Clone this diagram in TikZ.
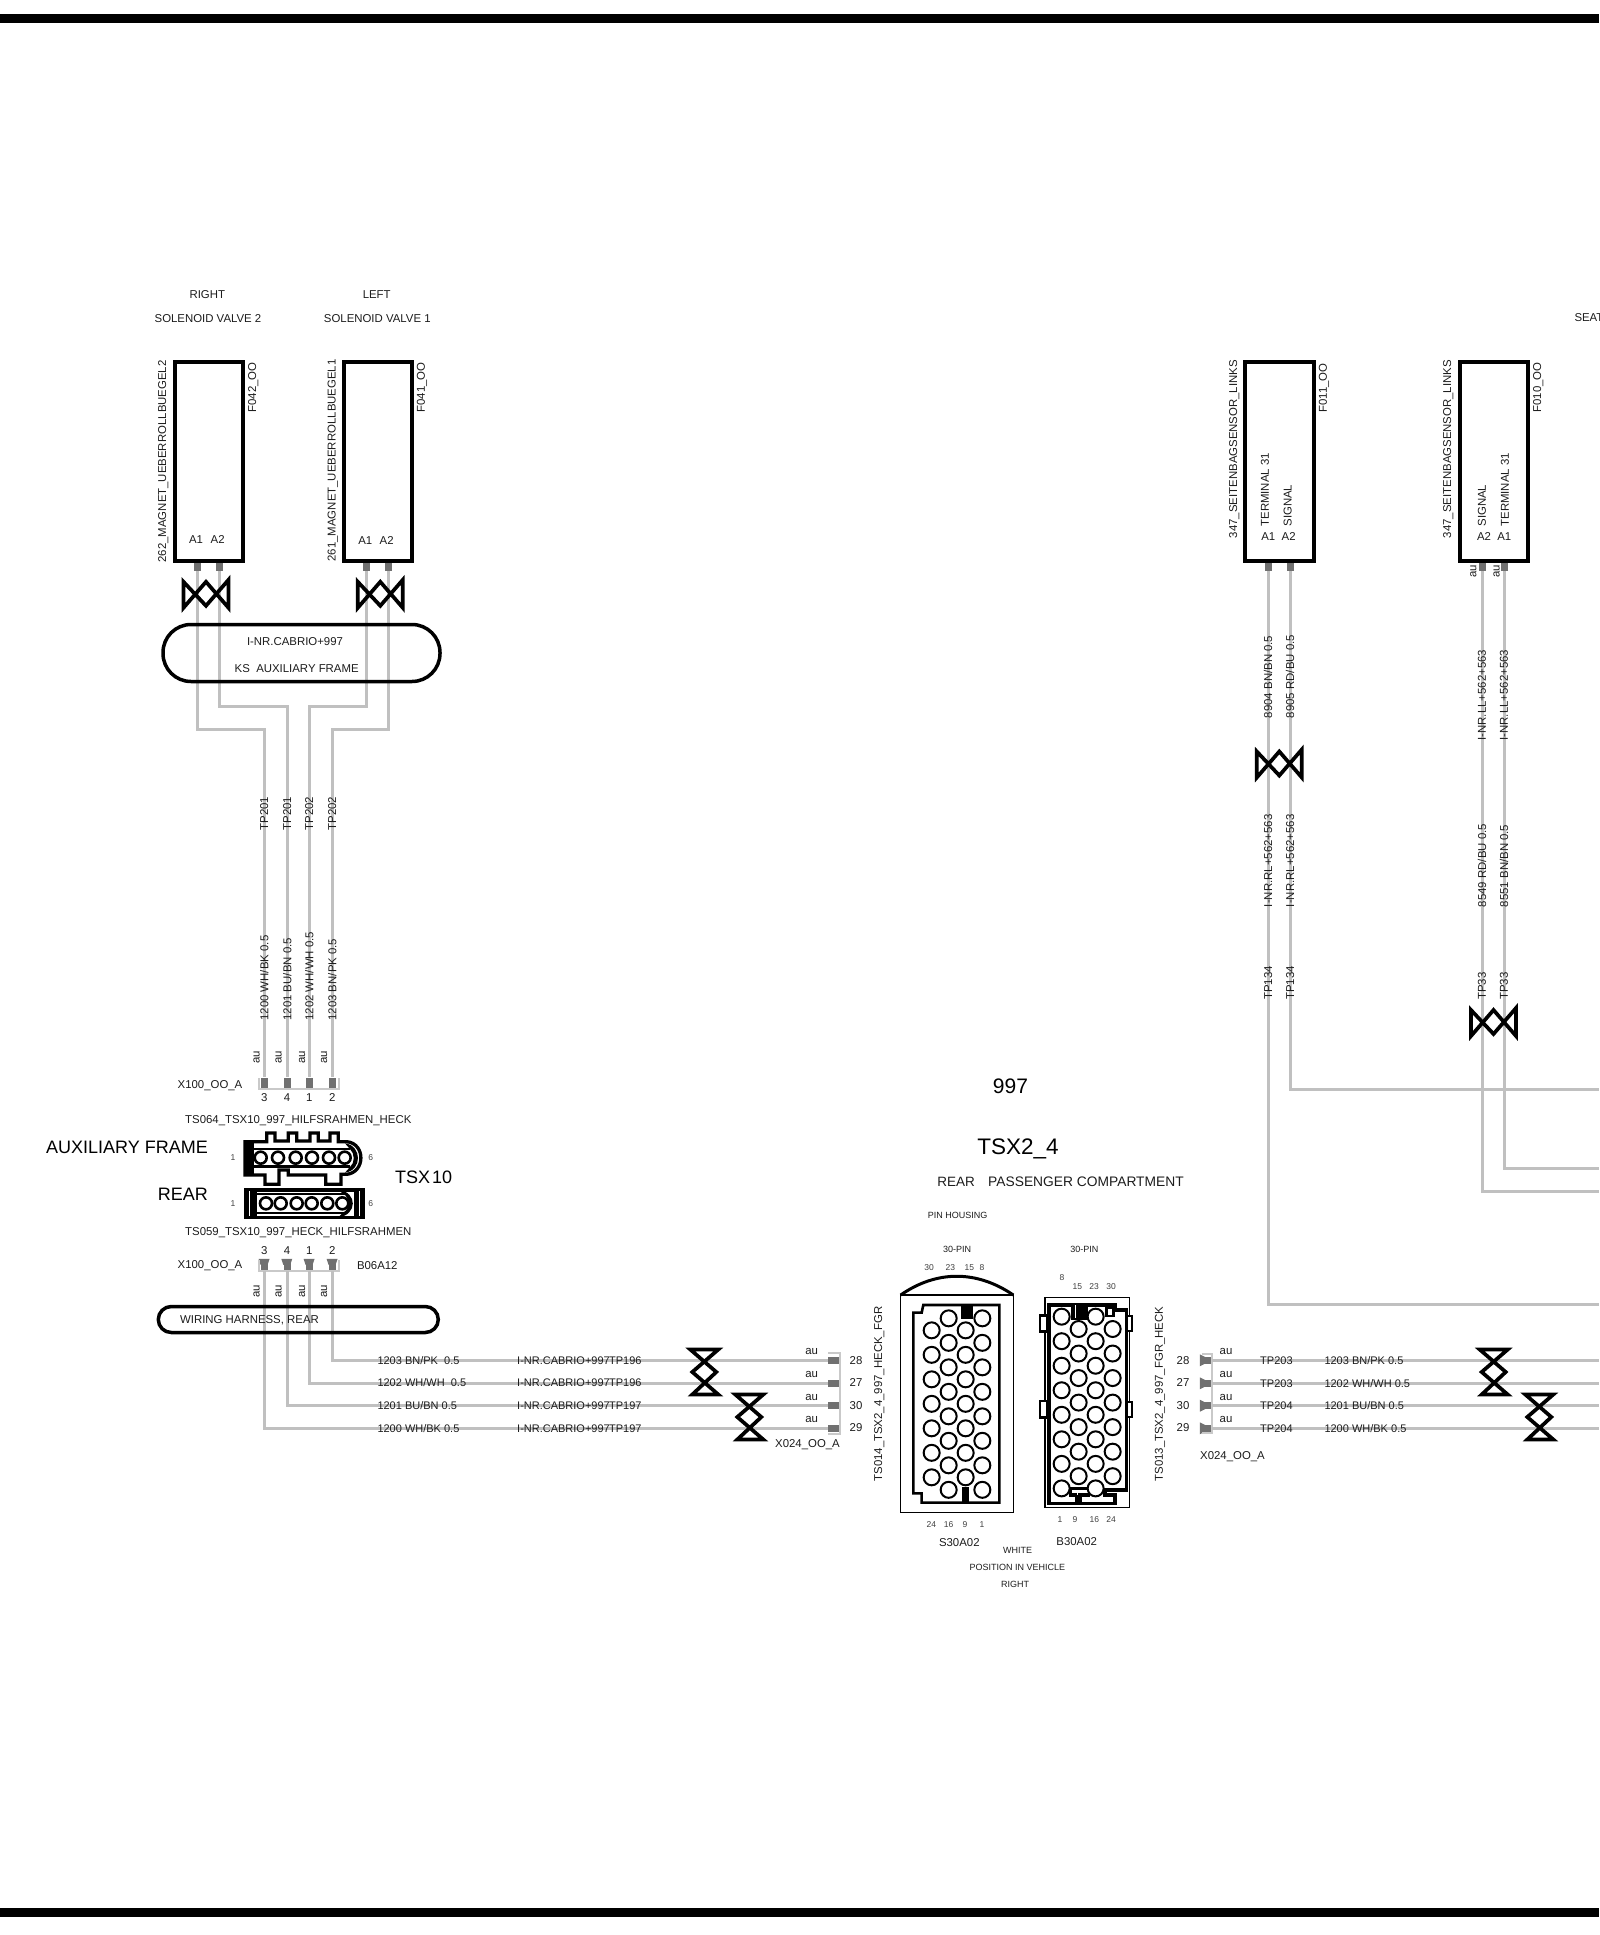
\documentclass[tikz,border=0pt]{standalone}
\usepackage{fontspec}
\setmainfont{Liberation Sans}
\usetikzlibrary{positioning}

\definecolor{wiregray}{HTML}{C0C0C0}
\definecolor{pingray}{HTML}{707070}
\definecolor{inkgray}{HTML}{1C1C1C}

\begin{document}
\begin{tikzpicture}[x=1pt, y=-1pt]
		\tikzstyle{lab} = [inner sep=0pt, text=inkgray, font=\fontsize{11.4}{13}\selectfont]
		\tikzstyle{wlab} = [lab, anchor=west, font=\fontsize{11}{13}\selectfont]
		\tikzstyle{vlab} = [lab, rotate=90, anchor=west]
		\tikzstyle{tiny} = [inner sep=0pt, text=inkgray!85, font=\fontsize{8.5}{10}\selectfont]
		\tikzstyle{head} = [inner sep=0pt, text=black, font=\fontsize{18}{20}\selectfont]
		\tikzstyle{wire} = [draw=wiregray, line width=3pt]
		\tikzstyle{bracket} = [draw=wiregray!85, line width=2pt]
		\tikzstyle{pinstub} = [fill=pingray, inner sep=0pt, minimum width=7pt, minimum height=11pt]
		\tikzstyle{pinside} = [fill=pingray, inner sep=0pt, minimum width=11pt, minimum height=7pt]
		\tikzstyle{devbox} = [draw, line width=4pt, inner sep=0pt, minimum width=68.5pt, minimum height=198.5pt]
		\tikzstyle{harness} = [draw, line width=3.5pt, inner sep=0pt]
		\tikzstyle{housing} = [draw, line width=2.6pt, miter limit=4]
		\tikzstyle{shell} = [draw, line width=1.6pt]
		\tikzstyle{contact} = [draw, fill=white, line width=2pt]
		\tikzset{twist/.pic={
			\draw[line width=3.7pt, miter limit=3] (-22.5,-12) -- (0,12) -- (22.5,-14) -- (22.5,14) -- (0,-12) -- (-22.5,14) -- cycle;
		}}

		\useasboundingbox (0,0) rectangle (1599,1935);

		% frame bars
		\fill (0,14) rectangle (1599,23);
		\fill (0,1908) rectangle (1599,1917);

		% device pins
		\foreach \name / \x in {r1/197.3, r2/219.3, l1/366.3, l2/388.3, s1/1268.3, s2/1290.3, t2/1482.3, t1/1504.3}
			\node[pinstub] (pin-\name) at (\x, 565.5) {};

		% connector X100 pins
		\foreach \name / \x in {3/264.3, 4/287, 1/309.3, 2/332.3}
			\node[pinstub] (up-\name) at (\x, 1083) {};
		\foreach \name / \x in {3/264.3, 4/287, 1/309.3, 2/332.3}{
			\node[pinstub] (low-\name) at (\x, 1265.5) {};
			\fill[pingray] (low-\name.north west) ++(-2,-1) -- ++(11,0) -- ++(-2,6) -- ++(-7,0) -- cycle;
		}

		% connector X024 pins
		\foreach \name / \y in {28/1360.7, 27/1383, 30/1405.3, 29/1428.3}
			\node[pinside] (left-\name) at (833.5, \y) {};
		\foreach \name / \y in {28/1360.3, 27/1383.3, 30/1405.7, 29/1428.3}{
			\node[pinside] (right-\name) at (1206.5, \y) {};
			\fill[pingray] (right-\name.west) ++(-1,-6) -- ++(6,3) -- ++(0,6) -- ++(-6,3) -- cycle;
			\coordinate (end-\name) at (1599, \y);
		}
		\coordinate (end-a) at (1599, 1089.3);
		\coordinate (end-b) at (1599, 1168.3);
		\coordinate (end-c) at (1599, 1191.7);
		\coordinate (end-d) at (1599, 1304);

		% brackets
		\draw[bracket] (259,1078) -- (259,1089) -- (339,1089) -- (339,1078);
		\draw[bracket] (259,1260) -- (259,1271) -- (339,1271) -- (339,1260);
		\draw[bracket] (828,1353) -- (840,1353) -- (840,1434) -- (828,1434);
		\draw[bracket] (1202,1354) -- (1212,1354) -- (1212,1433) -- (1202,1433);

		% solenoid wires
		\draw[wire] (pin-r1.south) -- (pin-r1 |- 0,729.3) -| (up-3.north);
		\draw[wire] (pin-r2.south) -- (pin-r2 |- 0,706) -| (up-4.north);
		\draw[wire] (pin-l1.south) -- (pin-l1 |- 0,706) -| (up-1.north);
		\draw[wire] (pin-l2.south) -- (pin-l2 |- 0,729.3) -| (up-2.north);

		% harness wires
		\draw[wire] (low-3.south) |- (left-29.west);
		\draw[wire] (low-4.south) |- (left-30.west);
		\draw[wire] (low-1.south) |- (left-27.west);
		\draw[wire] (low-2.south) |- (left-28.west);

		% wires to the right edge
		\foreach \name in {28, 27, 30, 29}
			\path[wire] (right-\name.east) edge (end-\name);
		\draw[wire] (pin-s2.south) |- (end-a);
		\draw[wire] (pin-t1.south) |- (end-b);
		\draw[wire] (pin-t2.south) |- (end-c);
		\draw[wire] (pin-s1.south) |- (end-d);

		% twists
		\pic at (206,593.8) {twist};
		\pic at (380.3,593.8) {twist};
		\pic at (1279.3,763.5) {twist};
		\pic at (1493.5,1022) {twist};
		\pic[rotate=90] at (704.3,1372) {twist};
		\pic[rotate=90] at (749.3,1417) {twist};
		\pic[rotate=90] at (1493.7,1372) {twist};
		\pic[rotate=90] at (1539.3,1417) {twist};

		% devices
		\node[devbox] (f042) at (208.75,461.25) {};
		\node[devbox] (f041) at (377.75,461.25) {};
		\node[devbox] (f011) at (1279.5,461.25) {};
		\node[devbox] (f010) at (1493.75,461.25) {};

		% harness frames
		\node[harness, minimum width=277pt, minimum height=57pt, rounded corners=28pt] (ks-frame) at (301.5,653) {};
		\node[harness, minimum width=280pt, minimum height=26pt, rounded corners=13pt] (rear-frame) at (298.3,1319.5) {};

		% connector TS064
		\begin{scope}[shift={(235,1125)}, scale=.3333]
			\draw[housing, line width=3.3pt] (30,50) -- (95,50) -- (95,24) -- (120,24) -- (120,48) -- (160,48) -- (160,24) -- (185,24) -- (185,48) -- (225,48) -- (225,24) -- (250,24) -- (250,48) -- (285,48) -- (285,24) -- (310,24) -- (310,50) -- (335,50) .. controls (392,55) and (392,142) .. (335,148) -- (318,148) -- (318,178) -- (272,178) -- (272,150) -- (160,150) -- (160,135) -- (132,135) -- (132,178) -- (90,178) -- (90,150) -- (30,150) -- cycle;
			\fill (30,48) rectangle (58,150);
			\draw[line width=2.8pt] (55,72) -- (345,72);
			\draw[line width=2.8pt] (55,124) -- (345,124);
			\fill (330,55) .. controls (382,62) and (382,136) .. (330,143) -- (345,126) .. controls (360,115) and (360,85) .. (345,72) -- cycle;
			\foreach \x in {77, 129, 182, 231, 282, 329}
				\draw[contact, line width=2.6pt] (\x,98) circle (18);
		\end{scope}

		% connector TS059
		\begin{scope}[shift={(235,1125)}, scale=.3333]
			\draw[housing, line width=3.3pt] (32,195) rectangle (385,277);
			\fill (32,195) rectangle (65,277);
			\fill (358,195) rectangle (385,277);
			\draw[white, line width=.8pt] (42,198) -- (42,274);
			\draw[white, line width=.8pt] (372,198) -- (372,274);
			\draw[line width=2.8pt] (65,207) -- (330,207);
			\draw[line width=2.8pt] (65,264) -- (330,264);
			\fill (310,195) .. controls (368,200) and (368,270) .. (310,277) -- (325,262) .. controls (345,255) and (345,215) .. (325,207) -- cycle;
			\foreach \x in {93, 137, 185, 230, 277, 322}
				\draw[contact, line width=2.6pt] (\x,235) circle (18);
		\end{scope}

		% connector S30A02
		\begin{scope}[shift={(860,1220)}, scale=.3333]
			\draw[shell] (122,225) rectangle (460,878);
			\draw[line width=3pt] (122,225) .. controls (230,150) and (350,150) .. (460,225);
			\draw[housing] (190,255) -- (418,255) -- (418,848) -- (185,848) -- (185,820) -- (160,820) -- (160,278) -- (185,278) -- cycle;
			\fill (303,255) rectangle (340,298);
			\fill (305,800) rectangle (328,848);
			\foreach \x in {215, 317}
				\foreach \k in {0, ..., 6}
					\draw[contact] (\x,{331+73.5*\k}) circle (24);
			\foreach \x in {266, 367}
				\foreach \k in {0, ..., 7}
					\draw[contact] (\x,{295+73.5*\k}) circle (24);
		\end{scope}

		% connector B30A02
		\begin{scope}[shift={(860,1220)}, scale=.3333]
			\draw[shell] (555,232) rectangle (808,863);
			\draw[housing, fill=white] (540,287) rectangle (562,335);
			\draw[housing, fill=white] (540,543) rectangle (562,592);
			\draw[shell, line width=2pt, fill=white] (798,288) rectangle (816,332);
			\draw[shell, line width=2pt, fill=white] (798,545) rectangle (816,590);
			\draw[line width=3.4pt] (650,825) -- (632,825) -- (632,805) -- (680,805);
			\draw[housing, line width=3.4pt] (650,825) -- (650,850) -- (567,850) -- (567,255) -- (765,255) -- (765,270) -- (800,270) -- (800,810) -- (735,810) -- (735,825) -- (765,825) -- (765,850) -- (660,850) -- (660,825) -- (690,825);
			\fill (633,255) rectangle (683,300);
			\draw[white, line width=.7pt] (645,255) -- (645,295);
			\fill (735,262) rectangle (765,292);
			\fill[white] (745,268) rectangle (757,285);
			\foreach \x in {605, 707}
				\foreach \k in {0, ..., 7}
					\draw[contact] (\x,{290+73.6*\k}) circle (24);
			\foreach \x in {656, 758}
				\foreach \k in {0, ..., 6}
					\draw[contact] (\x,{327+73.6*\k}) circle (24);
		\end{scope}

		% centred labels
		\foreach \name / \x / \y / \txt in {
				right-lab/207.3/294.5/RIGHT, left-lab/376.7/294.5/LEFT,
				valve2/208/318.3/{SOLENOID VALVE 2}, valve1/377.3/318.3/{SOLENOID VALVE 1},
				a1r/196/540/A1, a2r/217.7/540/A2, a1l/365.3/541/A1, a2l/386.7/541/A2,
				a1s/1268.3/537/A1, a2s/1288.7/537/A2, a2t/1484/537/A2, a1t/1504.3/537/A1,
				ks1/295/641.5/{I-NR.CABRIO+997}, ks2/296.7/669/{KS\ \ AUXILIARY FRAME},
				ts064/298.3/1120.5/TS064\_TSX10\_997\_HILFSRAHMEN\_HECK, ts059/298.3/1232.7/TS059\_TSX10\_997\_HECK\_HILFSRAHMEN,
				xa/210/1086/X100\_OO\_A, xb/210/1266/X100\_OO\_A, b06/377.3/1266/B06A12,
				n3a/264.3/1098/3, n4a/287/1098/4, n1a/309.3/1098/1, n2a/332.3/1098/2,
				n3b/264.3/1251/3, n4b/287/1251/4, n1b/309.3/1251/1, n2b/332.3/1251/2,
				harn/249.5/1320.5/{WIRING HARNESS, REAR},
				x024a/807.5/1445/X024\_OO\_A, x024b/1232.5/1457/X024\_OO\_A,
				s30/959.3/1543/S30A02, b30/1076.7/1541.5/B30A02}
			\node[lab] (\name) at (\x,\y) {\txt};

		% wire labels, left aligned
		\foreach \name / \y / \txt / \side in {
				a/1360.7/{1203 BN/PK\ \ 0.5}/TP196, b/1383/{1202 WH/WH\ \ 0.5}/TP196,
				c/1405.3/{1201 BU/BN 0.5}/TP197, d/1428.3/{1200 WH/BK 0.5}/TP197}{
			\node[wlab] (wl-\name) at (377.3,\y) {\txt};
			\node[wlab] (inr-\name) at (517,\y) {I-NR.CABRIO+997};
			\node[wlab, anchor=east] (tpl-\name) at (641.7,\y) {\side};
		}
		\foreach \name / \y / \txt / \side in {
				a/1360.3/{1203 BN/PK 0.5}/TP203, b/1383.3/{1202 WH/WH 0.5}/TP203,
				c/1405.7/{1201 BU/BN 0.5}/TP204, d/1428.3/{1200 WH/BK 0.5}/TP204}{
			\node[wlab] (wr-\name) at (1324.3,\y) {\txt};
			\node[wlab] (tpr-\name) at (1260,\y) {\side};
		}

		% au and pin numbers
		\foreach \name / \y in {a/1351.7, b/1374.3, c/1397.5, d/1419.3}{
			\node[lab] (au-l\name) at (811.7,\y) {au};
			\node[lab] (au-r\name) at (1226,\y) {au};
		}
		\foreach \name / \y in {28/1361, 27/1383, 30/1405.5, 29/1428}{
			\node[lab] (no-l\name) at (856,\y) {\name};
			\node[lab] (no-r\name) at (1183,\y) {\name};
		}
		\foreach \name / \x / \y in {u1/256.7/1064, u2/278.7/1064, u3/302/1064, u4/324/1064,
				v1/256.7/1298, v2/278.7/1298, v3/302/1298, v4/324/1298, w1/1473.3/578, w2/1496.7/578}
			\node[vlab] (au-\name) at (\x,\y) {au};

		% rotated labels
		\foreach \name / \x / \y / \txt in {
				mag2/163.3/562.7/262\_MAGNET\_UEBERROLLBUEGEL2, mag1/332.7/561.7/261\_MAGNET\_UEBERROLLBUEGEL1,
				f042-lab/253.3/412.7/F042\_OO, f041-lab/422/412.7/F041\_OO,
				sen1/1234.3/538.3/347\_SEITENBAGSENSOR\_LINKS, sen2/1448.3/538.3/347\_SEITENBAGSENSOR\_LINKS,
				f011-lab/1324/412.7/F011\_OO, f010-lab/1538.3/412.7/F010\_OO,
				term1/1265/526.7/TERMINAL 31, sig1/1287.7/526.7/SIGNAL, sig2/1482/526.7/SIGNAL, term2/1505/526.7/TERMINAL 31,
				tp1/264.3/830.7/TP201, tp2/287.3/830.7/TP201, tp3/309.3/830.7/TP202, tp4/332.3/830.7/TP202,
				w1200/264.3/1020.7/{1200 WH/BK 0.5}, w1201/287.3/1020.7/{1201 BU/BN 0.5},
				w1202/309.3/1020.7/{1202 WH/WH 0.5}, w1203/332.3/1020.7/{1203 BN/PK 0.5},
				w8904/1268/718.3/{8904 BN/BN 0.5}, w8905/1290/718.3/{8905 RD/BU 0.5},
				ll1/1482/740.7/I-NR.LL+562+563, ll2/1504/740.7/I-NR.LL+562+563,
				rl1/1268.3/907.3/I-NR.RL+562+563, rl2/1290.3/907.3/I-NR.RL+562+563,
				w8549/1482/907.3/{8549 RD/BU 0.5}, w8551/1504/907.3/{8551 BN/BN 0.5},
				tp134a/1268.3/1000/TP134, tp134b/1290.3/1000/TP134, tp33a/1482/1000/TP33, tp33b/1504/1000/TP33,
				ts014/879.3/1481.7/TS014\_TSX2\_4\_997\_HECK\_FGR, ts013/1160/1481.7/TS013\_TSX2\_4\_997\_FGR\_HECK}
			\node[vlab] (\name) at (\x,\y) {\txt};

		% connector pin numbers
		\foreach \name / \x / \y in {30/929/1267.3, 23/950.3/1267.3, 15/969.3/1267.3, 8/982/1267.3,
				24/931.3/1525, 16/948.7/1525, 9/965/1525, 1/982/1525}
			\node[tiny] (sp-\name) at (\x,\y) {\name};
		\foreach \name / \x / \y in {8/1062/1278, 15/1077.3/1286.3, 23/1094/1286.3, 30/1111/1286.3,
				1/1060/1519.3, 9/1075/1519.3, 16/1094.3/1519.3, 24/1111/1519.3}
			\node[tiny] (bp-\name) at (\x,\y) {\name};

		% small captions
		\foreach \name / \x / \y / \txt in {
				pin30a/957/1249.8/30-PIN, pin30b/1084.3/1249.2/30-PIN, house/957.5/1215.8/{PIN HOUSING},
				white-lab/1017.7/1550/WHITE, pos-lab/1017.3/1567/{POSITION IN VEHICLE}, rgt-lab/1015/1584/RIGHT}
			\node[lab, font=\fontsize{9}{11}\selectfont] (\name) at (\x,\y) {\txt};
		\node[tiny] (six-a) at (233,1158) {1};
		\node[tiny] (six-b) at (370.7,1158) {6};
		\node[tiny] (six-c) at (233,1203.5) {1};
		\node[tiny] (six-d) at (370.7,1203.5) {6};

		% headings
		\node[head, anchor=east] (aux) at (208,1147.2) {AUXILIARY FRAME};
		\node[head, anchor=east] (rear) at (208,1194.5) {REAR};
		\node[head, anchor=west] (tsx10) at (395,1177.5) {TSX\hspace{.1em}10};
		\node[head, font=\fontsize{21}{24}\selectfont] (type) at (1010.5,1085.8) {997};
		\node[head, font=\fontsize{22.5}{26}\selectfont] (tsx24) at (1018,1149) {TSX2\_4};
		\node[lab, font=\fontsize{13.5}{16}\selectfont] (rear2) at (956,1182) {REAR};
		\node[lab, anchor=west, font=\fontsize{13.8}{16}\selectfont] (comp) at (988,1181.5) {PASSENGER COMPARTMENT};
		\node[lab, anchor=west] (seat) at (1574.3,318) {SEAT};
	\end{tikzpicture}
\end{document}
